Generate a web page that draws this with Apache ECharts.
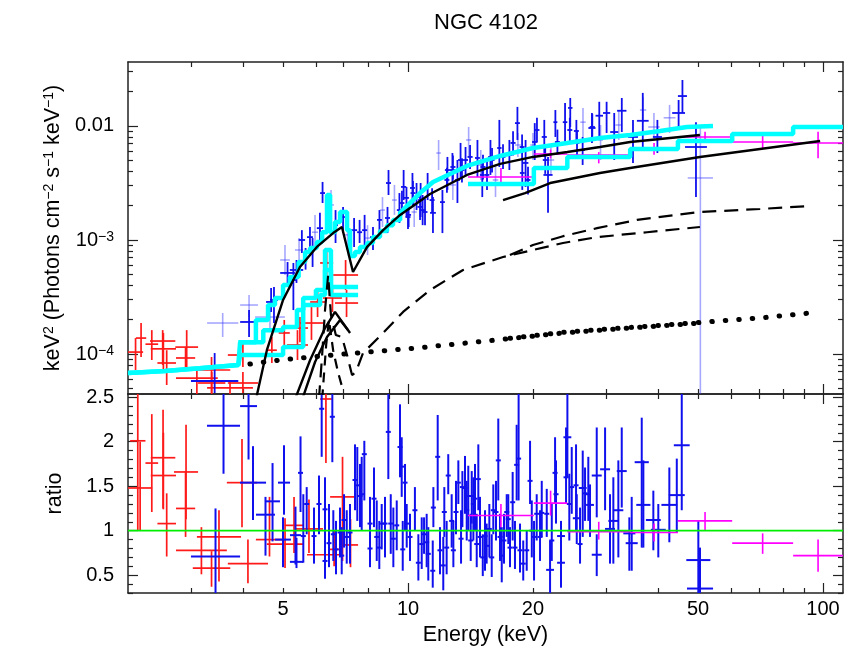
<!DOCTYPE html>
<html><head><meta charset="utf-8">
<script src="https://cdn.jsdelivr.net/npm/echarts@6/dist/echarts.min.js"></script>
<style>html,body{margin:0;padding:0;background:#fff}#c{width:858px;height:648px}</style>
</head><body><div id="c"></div>
<script>
// ---------------- axis ranges & ticks ----------------
const X_MIN = 2.115, X_MAX = 111.7;
const TOP_YMIN = 4.46e-5, TOP_YMAX = 0.0364;
const RAT_YMIN = 0.30, RAT_YMAX = 2.536;
const xLabelTicks = [5, 10, 20, 50, 100];
const xMajorTicks = [10, 100];
const xMinorTicks = [3, 4, 5, 6, 7, 8, 9, 20, 30, 40, 50, 60, 70, 80, 90];
const topMajorTicks = [1e-4, 1e-3, 1e-2];
const topMinorTicks = [5e-5, 6e-5, 7e-5, 8e-5, 9e-5, 2e-4, 3e-4, 4e-4, 5e-4, 6e-4, 7e-4, 8e-4, 9e-4,
  2e-3, 3e-3, 4e-3, 5e-3, 6e-3, 7e-3, 8e-3, 9e-3, 0.02, 0.03];
const ratioMajorTicks = [0.5, 1, 1.5, 2, 2.5];
const ratioMinorTicks = [0.3, 0.4, 0.6, 0.7, 0.8, 0.9, 1.1, 1.2, 1.3, 1.4, 1.6, 1.7, 1.8, 1.9, 2.1, 2.2, 2.3, 2.4];

// ---------------- data: [Elo, Ehi, y, ylo, yhi] ----------------
const redTop = [
  [2.115, 2.30, 1.04e-4, 7.24e-5, 1.38e-4], [2.21, 2.34, 1.38e-4, 9.41e-5, 1.87e-4],
  [2.33, 2.50, 1.22e-4, 8.86e-5, 1.62e-4], [2.39, 2.75, 1.30e-4, 8.01e-5, 1.62e-4],
  [2.40, 2.76, 1.11e-4, 7.24e-5, 1.53e-4], [2.49, 2.76, 8.34e-5, 5.35e-5, 1.08e-4],
  [2.75, 3.12, 1.15e-4, 7.24e-5, 1.62e-4], [2.76, 3.07, 9.23e-5, 7.24e-5, 1.15e-4],
  [2.76, 3.48, 6.15e-5, 4.37e-5, 7.69e-5], [3.03, 3.73, 7.24e-5, 4.55e-5, 9.41e-5],
  [3.12, 3.63, 5.57e-5, 4.37e-5, 6.95e-5], [3.28, 4.23, 5.04e-5, 4.40e-5, 5.90e-5],
  [3.68, 4.35, 5.57e-5, 4.55e-5, 6.95e-5], [3.68, 4.35, 9.80e-5, 7.69e-5, 1.25e-4],
  [4.57, 4.83, 1.08e-4, 8.34e-5, 1.41e-4], [4.88, 5.19, 1.53e-4, 1.15e-4, 1.99e-4],
  [5.25, 5.74, 1.69e-4, 1.27e-4, 2.11e-4], [5.11, 5.74, 1.20e-4, 8.86e-5, 1.62e-4],
  [5.49, 6.24, 1.87e-4, 1.33e-4, 2.80e-4], [5.81, 6.31, 2.86e-4, 2.11e-4, 3.64e-4],
  [6.14, 6.60, 6.29e-4, 4.73e-4, 8.17e-4], [6.24, 6.93, 3.10e-4, 2.34e-4, 4.03e-4],
  [6.67, 7.58, 2.80e-4, 2.11e-4, 3.64e-4], [6.60, 7.58, 4.93e-4, 3.64e-4, 6.68e-4]
];
const redRatio = [
  [2.115, 2.42, 1.48, 1.00, 2.00], [2.14, 2.33, 2.01, 1.00, 2.60], [2.33, 2.50, 1.76, 1.21, 2.31],
  [2.40, 2.75, 1.82, 1.25, 2.36], [2.40, 2.76, 1.62, 1.24, 2.10], [2.49, 2.76, 1.08, 0.71, 1.42],
  [2.73, 3.12, 1.66, 1.13, 2.19], [2.76, 3.07, 1.25, 0.93, 1.67], [2.76, 3.66, 0.78, 0.51, 1.04],
  [3.10, 3.96, 0.93, 0.43, 1.23], [3.03, 3.73, 0.58, 0.37, 0.77], [3.68, 4.60, 0.63, 0.41, 0.90],
  [3.66, 4.33, 1.54, 1.04, 2.03], [4.30, 5.00, 0.90, 0.71, 1.38], [4.57, 5.59, 0.85, 0.58, 1.14],
  [5.05, 5.59, 1.06, 0.75, 1.38], [5.34, 6.24, 1.02, 0.75, 1.35], [5.71, 6.97, 0.73, 0.53, 1.12],
  [6.14, 6.55, 2.48, 1.76, 2.60], [6.49, 7.45, 1.38, 0.66, 1.83], [6.97, 7.58, 0.84, 0.59, 1.13],
  [6.42, 6.86, 0.79, 0.60, 1.00]
];
const blueTop = [
  [3.00, 3.90, 5.8e-5, 4.55e-5, 1.02e-4], [3.94, 4.35, 1.91e-4, 1.41e-4, 2.43e-4],
  [4.55, 4.81, 2.86e-4, 2.34e-4, 3.79e-4], [4.65, 4.86, 2.98e-4, 1.87e-4, 3.87e-4],
  [4.92, 5.34, 5.14e-4, 3.87e-4, 6.41e-4], [5.19, 5.40, 4.46e-4, 2.43e-4, 6.29e-4],
  [5.19, 5.59, 5.46e-4, 4.20e-4, 6.68e-4], [5.45, 5.65, 1.00e-3, 7.69e-4, 1.22e-3],
  [5.59, 5.74, 7.00e-4, 5.50e-4, 8.50e-4], [5.71, 5.90, 1.06e-3, 8.20e-4, 1.30e-3],
  [5.81, 5.97, 8.51e-4, 5.80e-4, 1.04e-3], [6.03, 6.24, 1.27e-3, 9.41e-4, 1.73e-3],
  [6.14, 6.31, 2.58e-3, 2.11e-3, 3.23e-3], [6.60, 6.78, 1.35e-3, 9.41e-4, 1.83e-3],
  [6.86, 7.09, 1.59e-3, 1.15e-3, 1.95e-3], [7.29, 7.54, 1.22e-3, 8.69e-4, 1.56e-3],
  [7.54, 7.75, 1.17e-3, 9.41e-4, 1.50e-3], [7.75, 7.97, 1.22e-3, 8.69e-4, 1.66e-3],
  [8.10, 8.37, 1.06e-3, 8.17e-4, 1.30e-3], [8.42, 8.65, 1.50e-3, 1.06e-3, 1.83e-3],
  [8.80, 9.05, 1.56e-3, 1.15e-3, 1.95e-3], [8.85, 9.10, 3.16e-3, 2.48e-3, 4.11e-3],
  [9.40, 9.67, 1.83e-3, 1.41e-3, 2.58e-3], [9.62, 9.90, 2.92e-3, 2.24e-3, 4.11e-3],
  [9.78, 10.05, 2.34e-3, 1.59e-3, 2.92e-3], [9.90, 10.17, 1.66e-3, 1.30e-3, 2.15e-3],
  [10.11, 10.39, 2.86e-3, 2.11e-3, 3.87e-3], [10.34, 10.63, 2.38e-3, 1.83e-3, 3.16e-3],
  [10.57, 10.88, 2.24e-3, 1.59e-3, 3.16e-3], [10.69, 11.00, 1.83e-3, 1.35e-3, 2.48e-3],
  [11.00, 11.30, 2.92e-3, 2.24e-3, 3.87e-3], [11.30, 11.67, 1.73e-3, 1.15e-3, 2.38e-3],
  [11.94, 12.27, 2.15e-3, 1.15e-3, 2.75e-3], [12.27, 12.62, 4.11e-3, 2.75e-3, 5.35e-3],
  [12.62, 12.97, 4.11e-3, 3.16e-3, 5.79e-3], [12.97, 13.34, 3.36e-3, 2.11e-3, 5.03e-3],
  [13.20, 13.57, 5.03e-3, 3.57e-3, 7.10e-3], [13.57, 13.95, 5.03e-3, 3.72e-3, 6.54e-3],
  [14.50, 14.90, 5.24e-3, 3.57e-3, 7.54e-3], [14.90, 15.30, 3.72e-3, 2.38e-3, 5.03e-3],
  [15.30, 15.70, 3.72e-3, 2.75e-3, 5.03e-3], [15.60, 16.00, 5.35e-3, 3.72e-3, 7.54e-3],
  [16.40, 16.80, 6.41e-3, 4.37e-3, 1.13e-2], [17.30, 17.80, 5.57e-3, 4.11e-3, 7.54e-3],
  [18.10, 18.60, 1.06e-2, 7.54e-3, 1.47e-2], [18.60, 19.10, 3.87e-3, 2.75e-3, 5.03e-3],
  [18.90, 19.50, 4.74e-3, 2.92e-3, 7.54e-3], [19.90, 20.50, 7.24e-3, 5.03e-3, 1.06e-2],
  [21.00, 21.60, 8.01e-3, 5.35e-3, 1.13e-2], [21.20, 22.30, 3.72e-3, 1.73e-3, 5.35e-3],
  [22.40, 22.90, 1.08e-2, 8.01e-3, 1.38e-2], [23.60, 24.20, 1.08e-2, 7.10e-3, 1.59e-2],
  [24.30, 24.90, 1.44e-2, 9.80e-3, 1.76e-2], [25.10, 25.80, 9.04e-3, 7.10e-3, 1.13e-2],
  [26.00, 26.70, 6.16e-3, 4.55e-3, 8.01e-3], [27.20, 28.30, 9.60e-3, 7.10e-3, 1.30e-2],
  [28.30, 29.50, 1.23e-2, 7.54e-3, 1.63e-2], [29.50, 30.70, 1.30e-2, 8.68e-3, 1.63e-2],
  [30.70, 32.10, 8.85e-3, 5.03e-3, 1.30e-2], [31.90, 33.60, 1.36e-2, 8.85e-3, 1.76e-2],
  [33.90, 35.80, 8.01e-3, 4.74e-3, 1.13e-2], [35.60, 38.00, 1.11e-2, 6.54e-3, 1.95e-2],
  [38.90, 40.90, 8.01e-3, 5.79e-3, 1.13e-2], [43.30, 46.50, 1.30e-2, 9.80e-3, 1.69e-2],
  [44.70, 47.00, 1.83e-2, 1.30e-2, 2.53e-2], [46.50, 52.50, 6.54e-3, 2.38e-3, 1.08e-2],
  [9.54, 9.80, 2.11e-3, 1.65e-3, 2.70e-3], [9.86, 10.14, 1.59e-3, 1.25e-3, 2.05e-3],
  [10.14, 10.42, 2.58e-3, 2.00e-3, 3.30e-3], [10.54, 10.84, 1.95e-3, 1.50e-3, 2.50e-3],
  [10.84, 11.14, 1.76e-3, 1.35e-3, 2.30e-3], [11.27, 11.59, 2.24e-3, 1.75e-3, 2.85e-3],
  [12.24, 12.58, 3.36e-3, 2.60e-3, 4.30e-3], [12.65, 13.01, 4.37e-3, 3.40e-3, 5.50e-3],
  [13.30, 13.68, 4.11e-3, 3.20e-3, 5.20e-3], [13.91, 14.31, 5.35e-3, 4.20e-3, 6.80e-3],
  [14.95, 15.37, 4.37e-3, 3.40e-3, 5.60e-3], [15.72, 16.16, 5.03e-3, 3.90e-3, 6.40e-3],
  [16.71, 17.17, 5.35e-3, 4.20e-3, 6.90e-3], [17.66, 18.16, 7.10e-3, 5.50e-3, 9.00e-3],
  [18.57, 19.09, 6.54e-3, 5.10e-3, 8.40e-3], [19.19, 19.73, 3.36e-3, 2.50e-3, 4.40e-3],
  [20.17, 20.73, 9.22e-3, 7.20e-3, 1.18e-2], [21.12, 21.70, 5.03e-3, 3.80e-3, 6.50e-3],
  [22.59, 23.23, 7.24e-3, 5.60e-3, 9.30e-3], [24.20, 24.88, 9.22e-3, 7.20e-3, 1.18e-2],
  [25.19, 25.89, 7.10e-3, 5.50e-3, 9.10e-3], [27.40, 28.20, 9.80e-3, 7.50e-3, 1.27e-2]
];
const blueFaintTop = [
  [3.28, 3.90, 1.87e-4, 1.41e-4, 2.29e-4], [3.94, 4.35, 2.69e-4, 2.11e-4, 3.29e-4],
  [4.28, 5.05, 2.11e-4, 1.62e-4, 2.69e-4], [4.92, 5.19, 6.68e-4, 4.93e-4, 9.04e-4],
  [5.34, 5.59, 8.17e-4, 6.04e-4, 1.04e-3], [5.87, 6.07, 1.17e-3, 8.17e-4, 1.66e-3],
  [6.42, 6.63, 2.03e-3, 1.50e-3, 2.75e-3], [7.05, 7.25, 1.11e-3, 8.17e-4, 1.50e-3],
  [7.88, 8.10, 1.04e-3, 7.38e-4, 1.35e-3], [8.56, 8.80, 1.83e-3, 1.30e-3, 2.38e-3],
  [9.15, 9.40, 2.24e-3, 1.66e-3, 3.04e-3], [10.2, 10.5, 1.76e-3, 1.30e-3, 2.34e-3],
  [11.7, 12.0, 5.79e-3, 4.11e-3, 7.54e-3], [12.6, 13.05, 3.04e-3, 2.24e-3, 4.11e-3],
  [13.8, 14.2, 7.54e-3, 5.35e-3, 9.80e-3], [14.75, 15.2, 4.55e-3, 3.36e-3, 6.16e-3],
  [16.0, 16.5, 3.36e-3, 2.38e-3, 4.55e-3], [18.1, 18.7, 6.81e-3, 5.35e-3, 8.68e-3],
  [19.7, 20.3, 6.81e-3, 5.03e-3, 8.68e-3], [21.7, 22.5, 5.03e-3, 3.72e-3, 6.54e-3],
  [26.0, 26.8, 1.08e-2, 8.01e-3, 1.44e-2], [28.7, 29.5, 7.54e-3, 5.03e-3, 1.02e-2],
  [31.6, 32.8, 1.02e-2, 7.54e-3, 1.38e-2], [36.2, 37.5, 1.38e-2, 1.06e-2, 1.80e-2],
  [37.9, 40.4, 9.80e-3, 7.54e-3, 1.30e-2], [41.3, 44.1, 1.18e-2, 8.68e-3, 1.53e-2],
  [47.2, 54.3, 3.50e-3, 1e-6, 9.80e-3]
];
// blue ratio: [E, half-width %, ratio, lo, hi]
const blueRatio = [
  [3.593, 9.6, 2.18, 1.64, 2.6], [4.128, 4.8, 2.40, 1.80, 2.6], [4.232, 7.5, 1.54, 1.12, 1.95],
  [3.437, 14.6, 0.71, 0.29, 1.25], [4.535, 5.4, 1.18, 0.72, 1.38], [4.716, 4.2, 1.33, 0.88, 1.76],
  [5.026, 3.4, 1.54, 1.18, 1.96], [4.997, 4.5, 0.90, 0.59, 1.15], [5.356, 3.1, 0.95, 0.62, 1.27],
  [5.386, 3.7, 0.65, 0.58, 0.92], [5.508, 1.4, 1.65, 1.21, 2.06], [5.594, 1.4, 0.94, 0.64, 1.41],
  [5.700, 1.4, 1.30, 0.96, 1.49], [5.936, 1.4, 0.94, 0.63, 1.26], [6.102, 1.4, 1.30, 0.96, 1.62],
  [6.194, 1.4, 2.37, 1.83, 2.6], [6.310, 1.4, 1.24, 0.87, 1.60], [6.310, 1.4, 0.66, 0.46, 0.96],
  [6.451, 1.4, 0.86, 0.59, 1.30], [6.571, 1.4, 2.28, 1.77, 2.6], [6.607, 1.4, 0.96, 0.66, 1.23],
  [6.707, 1.4, 0.79, 0.51, 1.11], [6.857, 1.4, 0.98, 0.70, 1.26], [6.922, 1.4, 0.72, 0.51, 1.04],
  [7.012, 1.4, 1.12, 0.81, 1.41], [7.118, 1.4, 0.93, 0.63, 1.23], [7.248, 1.4, 0.98, 0.63, 1.30],
  [7.452, 1.4, 1.57, 1.23, 1.97], [7.547, 1.4, 1.51, 1.11, 1.94], [7.661, 1.4, 1.39, 1.04, 1.75],
  [7.734, 1.4, 1.41, 1.00, 1.83], [7.847, 1.4, 1.86, 1.34, 2.01], [8.099, 1.4, 1.08, 0.70, 1.38],
  [8.099, 1.4, 0.80, 0.59, 1.11], [8.281, 1.4, 1.36, 1.04, 1.71], [8.406, 1.4, 0.93, 0.66, 1.34],
  [8.527, 1.4, 0.81, 0.57, 1.11], [8.642, 1.4, 1.08, 0.79, 1.30], [8.802, 1.4, 1.08, 0.70, 1.38],
  [8.965, 1.4, 2.11, 1.58, 2.6], [9.086, 1.4, 1.08, 0.74, 1.41], [9.218, 1.4, 0.91, 0.59, 1.26],
  [9.393, 1.4, 1.06, 0.78, 1.34], [9.566, 1.4, 1.94, 1.60, 2.42], [9.656, 1.4, 1.72, 1.38, 2.05],
  [9.711, 1.4, 0.79, 0.55, 1.11], [9.835, 1.4, 1.54, 1.00, 1.75], [9.928, 1.4, 1.08, 0.81, 1.30],
  [10.11, 1.4, 0.93, 0.66, 1.19], [10.39, 1.4, 1.23, 1.00, 1.49], [10.59, 1.4, 0.64, 0.44, 0.96],
  [10.79, 1.4, 0.85, 0.57, 1.15], [10.93, 1.4, 0.96, 0.74, 1.15], [11.09, 1.4, 0.87, 0.59, 1.19],
  [11.19, 1.4, 0.74, 0.44, 1.04], [11.47, 1.4, 0.55, 0.36, 0.89], [11.51, 1.4, 1.26, 1.04, 1.49],
  [11.79, 1.4, 1.83, 1.34, 2.30], [11.94, 1.4, 0.78, 0.51, 1.04], [12.16, 1.4, 0.61, 0.33, 0.93],
  [12.23, 1.4, 1.21, 0.93, 1.49], [12.39, 1.4, 0.81, 0.51, 1.11], [12.50, 1.4, 1.62, 1.41, 1.86],
  [12.74, 1.4, 1.11, 0.81, 1.41], [12.86, 1.4, 0.78, 0.59, 1.11], [13.05, 1.4, 1.21, 0.96, 1.56],
  [13.22, 1.4, 1.54, 1.30, 1.79], [13.42, 1.4, 0.91, 0.63, 1.23], [13.52, 1.4, 1.49, 1.04, 1.67],
  [13.72, 1.4, 1.48, 1.19, 1.84], [13.85, 1.4, 1.23, 0.89, 1.56], [13.97, 1.4, 1.39, 1.00, 1.73],
  [14.16, 1.4, 0.89, 0.66, 1.19], [14.24, 1.4, 1.39, 1.08, 1.67], [14.37, 1.4, 1.30, 0.89, 1.60],
  [14.50, 1.4, 1.36, 1.00, 1.75], [14.64, 1.4, 0.85, 0.59, 1.19], [14.77, 1.4, 1.58, 1.23, 1.97],
  [14.91, 1.4, 0.93, 0.70, 1.38], [15.14, 1.4, 0.70, 0.49, 0.96], [15.33, 1.4, 0.94, 0.55, 1.23],
  [15.47, 1.4, 0.83, 0.63, 1.08], [15.70, 1.4, 1.02, 0.70, 1.30], [15.91, 1.4, 0.70, 0.48, 0.96],
  [16.05, 1.4, 1.23, 0.96, 1.52], [16.29, 1.4, 1.21, 0.89, 1.56], [16.50, 1.4, 1.79, 1.34, 2.26],
  [16.66, 1.4, 0.93, 0.66, 1.19], [16.82, 1.4, 0.72, 0.42, 1.04], [17.03, 1.4, 0.89, 0.63, 1.19],
  [17.29, 1.4, 1.21, 0.93, 1.41], [17.44, 1.4, 1.13, 0.85, 1.41], [17.61, 1.4, 0.81, 0.59, 1.04],
  [17.87, 1.4, 1.32, 0.89, 1.66], [18.10, 1.4, 0.81, 0.57, 1.11], [18.27, 1.4, 1.74, 1.34, 2.19],
  [18.47, 1.4, 1.81, 1.34, 2.6], [18.61, 1.4, 0.78, 0.53, 1.08], [18.95, 1.4, 0.63, 0.44, 0.89],
  [19.32, 1.4, 0.78, 0.55, 1.00], [19.68, 1.4, 1.56, 1.30, 2.01], [19.87, 1.4, 1.00, 0.70, 1.34],
  [20.12, 1.4, 0.93, 0.44, 1.11], [20.42, 1.4, 1.19, 0.89, 1.41], [20.80, 1.4, 0.93, 0.66, 1.23],
  [21.00, 1.4, 1.20, 0.93, 1.56], [21.59, 1.4, 1.19, 0.93, 1.47], [21.99, 2.2, 0.56, 0.29, 0.89],
  [22.20, 1.4, 0.89, 0.66, 1.30], [22.61, 1.4, 1.65, 1.30, 2.05], [22.73, 1.4, 1.41, 1.08, 1.79],
  [23.37, 2.2, 0.94, 0.59, 1.11], [23.37, 2.2, 0.64, 0.36, 0.89], [24.03, 1.4, 1.60, 1.30, 2.16],
  [24.21, 2.2, 2.05, 1.60, 2.6], [24.47, 1.4, 1.30, 0.89, 1.64], [24.80, 1.4, 1.49, 1.19, 1.94],
  [25.40, 1.4, 1.51, 1.00, 1.97], [25.50, 2.2, 1.14, 0.85, 1.41], [25.97, 1.4, 0.85, 0.63, 1.26],
  [26.36, 2.2, 1.48, 0.93, 1.90], [26.70, 1.4, 1.42, 1.11, 1.71], [27.19, 1.4, 1.41, 1.11, 1.83],
  [27.45, 2.2, 1.29, 0.93, 1.52], [28.49, 2.8, 1.62, 1.15, 2.16], [28.49, 2.8, 0.73, 0.49, 0.96],
  [29.84, 2.8, 1.69, 1.23, 2.16], [30.67, 2.8, 1.02, 0.63, 1.41], [31.24, 2.8, 1.11, 0.63, 1.60],
  [32.12, 2.8, 1.23, 0.70, 1.79], [32.73, 2.8, 1.67, 1.26, 2.16], [34.14, 3.4, 0.97, 0.55, 1.15],
  [34.59, 3.4, 0.86, 0.55, 1.38], [36.57, 4.0, 1.77, 0.81, 2.27], [36.90, 4.0, 1.29, 0.81, 1.79],
  [39.00, 4.2, 1.12, 0.78, 1.45], [40.09, 4.2, 1.01, 0.70, 1.30], [42.62, 4.5, 1.29, 0.87, 1.71],
  [44.42, 4.5, 1.40, 0.98, 1.81], [45.66, 4.5, 1.96, 1.23, 2.6], [50.06, 6.9, 0.67, 0.29, 1.11],
  [50.53, 7.5, 0.35, 0.20, 0.81]
];
const magentaTop = [
  [13.95, 20.1, 3.57e-3, 3.20e-3, 4.28e-3], [20.1, 24.2, 5.68e-3, 5.20e-3, 6.20e-3],
  [24.2, 34.3, 5.57e-3, 4.70e-3, 5.90e-3], [34.3, 44.7, 6.41e-3, 5.60e-3, 7.10e-3],
  [44.7, 60.4, 8.01e-3, 7.20e-3, 8.90e-3], [60.4, 84.7, 7.24e-3, 6.40e-3, 8.30e-3],
  [84.7, 111.7, 7.10e-3, 5.20e-3, 8.90e-3]
];
const magentaRatio = [
  [13.95, 20.1, 1.17, 1.04, 1.30], [20.1, 24.2, 1.31, 1.17, 1.45], [24.2, 34.3, 0.99, 0.90, 1.10],
  [34.3, 44.7, 0.98, 0.88, 1.08], [44.7, 60.4, 1.11, 1.00, 1.21], [60.4, 84.7, 0.86, 0.74, 0.97],
  [84.7, 111.7, 0.72, 0.54, 0.90]
];

// ---------------- models ----------------
const cyanRedSmoothE = [2.115, 2.60, 3.15, 3.90];
const cyanRedSmoothV = [6.81e-5, 7.10e-5, 7.50e-5, 8.00e-5];
const cyanRed1Edges = [3.94, 4.48, 5.00, 5.40, 5.59, 6.00, 6.31, 6.52, 7.58];
const cyanRed1Vals = [1.27e-4, 1.62e-4, 1.73e-4, 2.43e-4, 3.10e-4, 3.64e-4, 8.17e-4, 3.87e-4];
const cyanRed2Edges = [3.94, 5.00, 5.59, 6.14, 6.31, 6.52, 7.58];
const cyanRed2Vals = [9.8e-5, 1.15e-4, 2.69e-4, 3.29e-4, 5.46e-4, 3.29e-4];
const cyanBlueEdges = [3.90, 4.30, 4.60, 4.78, 5.00, 5.19, 5.45, 5.65, 5.81, 6.03, 6.21, 6.38, 6.49,
  6.67, 6.86, 7.13, 7.25, 7.45, 7.66, 7.97, 8.23, 8.56, 8.90, 9.20, 9.57];
const cyanBlueVals = [1.27e-4, 1.99e-4, 2.69e-4, 3.10e-4, 4.03e-4, 4.73e-4, 6.41e-4, 7.85e-4, 8.51e-4,
  9.59e-4, 1.17e-3, 2.48e-3, 1.17e-3, 1.44e-3, 1.76e-3, 1.22e-3, 7.24e-4, 7.85e-4, 8.69e-4, 9.41e-4,
  1.06e-3, 1.20e-3, 1.35e-3, 1.50e-3];
const cyanBlueSmoothE = [9.57, 10.69, 11.49, 13.87, 16.67, 20.0, 24.2, 29.0, 34.3, 40.5, 47.0, 54.3];
const cyanBlueSmoothV = [1.73e-3, 2.58e-3, 3.23e-3, 4.46e-3, 5.46e-3, 6.41e-3, 7.10e-3, 7.85e-3, 8.34e-3,
  9.04e-3, 9.80e-3, 1.0e-2];
const cyanBatEdges = [13.95, 20.1, 24.2, 34.3, 44.7, 60.4, 84.7, 111.7];
const cyanBatVals = [3.10e-3, 4.28e-3, 5.35e-3, 6.29e-3, 7.38e-3, 8.51e-3, 9.80e-3];

const totalAE = [4.25, 4.33, 4.57, 5.00, 5.49, 6.03, 6.60, 6.93, 7.37, 7.97, 8.71, 9.57, 11.3, 13.87,
  16.67, 20.0, 24.2, 29.0, 34.3, 50.5];
const totalAV = [3.0e-5, 4.46e-5, 1.08e-4, 2.98e-4, 5.80e-4, 8.69e-4, 1.15e-3, 1.30e-3, 5.24e-4, 8.69e-4,
  1.22e-3, 1.66e-3, 2.53e-3, 3.72e-3, 4.65e-3, 5.35e-3, 5.91e-3, 6.54e-3, 7.24e-3, 8.34e-3];
const totalBE = [16.94, 19.14, 22.0, 29.0, 34.3, 50.5, 98.4];
const totalBV = [2.24e-3, 2.58e-3, 3.16e-3, 3.87e-3, 4.28e-3, 5.35e-3, 7.38e-3];
const lineS1E = [5.34, 5.81, 6.31, 6.67, 7.25];
const lineS1V = [4.0e-5, 8.86e-5, 1.69e-4, 2.34e-4, 1.53e-4];
const lineS2E = [5.56, 5.97, 6.38, 6.86, 7.17];
const lineS2V = [4.0e-5, 8.51e-5, 1.41e-4, 1.99e-4, 1.62e-4];
const reflAE = [6.10, 6.21, 6.31, 6.42, 6.52, 6.70, 6.93, 7.13, 7.33, 7.49, 7.79, 8.71, 9.73, 11.3, 13.57,
  16.94, 20.0, 23.63, 28.54, 37.66, 50.5];
const reflAV = [4.0e-5, 9.80e-5, 2.43e-4, 4.93e-4, 2.20e-4, 1.47e-4, 1.41e-4, 9.80e-5, 6.54e-5, 6.95e-5,
  1.02e-4, 1.53e-4, 2.34e-4, 3.64e-4, 5.46e-4, 7.09e-4, 8.17e-4, 9.41e-4, 1.06e-3, 1.17e-3, 1.30e-3];
const reflA2E = [6.21, 6.35, 6.45, 6.60, 6.78, 6.97];
const reflA2V = [4.0e-5, 1.20e-4, 1.99e-4, 1.08e-4, 6.95e-5, 4.83e-5];
const reflBE = [17.6, 20.0, 23.63, 28.54, 35.63, 50.5, 70.5, 93.05];
const reflBV = [7.38e-4, 9.04e-4, 1.08e-3, 1.27e-3, 1.50e-3, 1.76e-3, 1.87e-3, 1.99e-3];
const scatAE = [4.16, 4.92, 6.60, 10.51, 16.39, 23.63, 34.3, 50.5];
const scatAV = [8.17e-5, 8.86e-5, 9.80e-5, 1.13e-4, 1.33e-4, 1.53e-4, 1.69e-4, 1.87e-4];
const scatBE = [16.9, 23.63, 34.3, 50.5, 70.5, 93.05];
const scatBV = [1.35e-4, 1.55e-4, 1.71e-4, 1.89e-4, 2.07e-4, 2.29e-4];
const unityLine = [[X_MIN, 1], [X_MAX, 1]];

// ---------------- helpers ----------------
const FONT = "'Liberation Sans', Arial, Helvetica, sans-serif";
const AX = '#222';
function zip(E, V) { return E.map((e, i) => [e, V[i]]); }
function stepPts(edges, vals) {
  const p = [];
  for (let i = 0; i < vals.length; i++) { p.push([edges[i], vals[i]]); p.push([edges[i + 1], vals[i]]); }
  return p;
}
function crosses(data, color, width, xi, yi) {
  return {
    type: 'custom', xAxisIndex: xi, yAxisIndex: yi, clip: true, silent: true,
    encode: { x: [0, 1], y: [2, 3, 4] },
    data: data,
    renderItem: function (params, api) {
      const lo = api.value(0), hi = api.value(1), y = api.value(2), ylo = api.value(3), yhi = api.value(4);
      const xc = Math.sqrt(lo * hi);
      const a = api.coord([lo, y]), b = api.coord([hi, y]);
      const c = api.coord([xc, ylo]), d = api.coord([xc, yhi]);
      const st = { stroke: color, lineWidth: width };
      return { type: 'group', children: [
        { type: 'line', shape: { x1: a[0], y1: a[1], x2: b[0], y2: b[1] }, style: st },
        { type: 'line', shape: { x1: c[0], y1: c[1], x2: d[0], y2: d[1] }, style: st }
      ] };
    }
  };
}
function line(data, color, width, type, xi, yi, extra) {
  return Object.assign({
    type: 'line', data: data, xAxisIndex: xi, yAxisIndex: yi, showSymbol: false, symbol: 'none',
    silent: true, clip: true, smooth: false,
    lineStyle: { color: color, width: width, type: type || 'solid' }
  }, extra || {});
}
function ax(type, grid, pos, min, max, ticks, len, showLine, label, extra) {
  const a = {
    type: type, gridIndex: grid, position: pos, min: min, max: max,
    axisLine: { show: showLine, onZero: false, lineStyle: { color: AX, width: 1.5 } },
    axisTick: { show: true, inside: true, length: len, customValues: ticks, lineStyle: { color: AX, width: 1.2 } },
    axisLabel: label || { show: false },
    splitLine: { show: false }, minorTick: { show: false }, minorSplitLine: { show: false }
  };
  if (type === 'log') a.logBase = 10;
  return Object.assign(a, extra || {});
}

const supRich = { s: { fontSize: 14, verticalAlign: 'top', fontFamily: FONT, color: '#000' },
                  a: { fontSize: 21.5, fontFamily: FONT, color: '#000' } };

const xLabel = { show: true, customValues: xLabelTicks, fontSize: 20, color: '#000', fontFamily: FONT, margin: 6,
  formatter: v => String(Math.round(v)) };
const topYLabel = { show: true, customValues: topMajorTicks, fontSize: 20, color: '#000', fontFamily: FONT, margin: 14,
  formatter: v => { const e = Math.round(Math.log10(v)); return e === -2 ? '0.01' : '10{s|\u2212' + (-e) + '}'; },
  rich: { s: { fontSize: 14, verticalAlign: 'top', fontFamily: FONT, color: '#000' } } };
const ratioYLabel = { show: true, customValues: ratioMajorTicks, fontSize: 20, color: '#000', fontFamily: FONT, margin: 14,
  formatter: v => String(v) };

const blueRatioBars = blueRatio.map(d => [d[0] / (1 + d[1] / 100), d[0] * (1 + d[1] / 100), d[2], d[3], d[4]]);
const dotStyleA = { color: '#000', width: 5, type: [0.5, 13], cap: 'round' };
const dotStyleB = { color: '#000', width: 5, type: [0.5, 13], dashOffset: 6, cap: 'round' };

const option = {
  animation: false,
  backgroundColor: '#fff',
  title: { text: 'NGC 4102', left: 429, top: 7,
    textStyle: { fontSize: 22, fontWeight: 'normal', color: '#000', fontFamily: FONT } },
  grid: [
    { left: 128, top: 62, width: 715, height: 332 },
    { left: 128, top: 394, width: 715, height: 199 }
  ],
  xAxis: [
    ax('log', 0, 'bottom', X_MIN, X_MAX, xMajorTicks, 10, true),
    ax('log', 0, 'bottom', X_MIN, X_MAX, xMinorTicks, 5, false),
    ax('log', 0, 'top', X_MIN, X_MAX, xMajorTicks, 10, true),
    ax('log', 0, 'top', X_MIN, X_MAX, xMinorTicks, 5, false),
    ax('log', 1, 'bottom', X_MIN, X_MAX, xMajorTicks, 10, true, xLabel,
      { name: 'Energy (keV)', nameLocation: 'middle', nameGap: 31,
        nameTextStyle: { fontSize: 21.5, color: '#000', fontFamily: FONT } }),
    ax('log', 1, 'bottom', X_MIN, X_MAX, xMinorTicks, 5, false),
    ax('log', 1, 'top', X_MIN, X_MAX, xMajorTicks, 10, true),
    ax('log', 1, 'top', X_MIN, X_MAX, xMinorTicks, 5, false)
  ],
  yAxis: [
    ax('log', 0, 'left', TOP_YMIN, TOP_YMAX, topMajorTicks, 10, true, topYLabel,
      { name: '{a|keV}{s|2}{a| (Photons cm}{s|\u22122}{a| s}{s|\u22121}{a| keV}{s|\u22121}{a|)}',
        nameLocation: 'middle', nameGap: 60,
        nameTextStyle: { fontSize: 21.5, color: '#000', fontFamily: FONT, rich: supRich } }),
    ax('log', 0, 'left', TOP_YMIN, TOP_YMAX, topMinorTicks, 5, false),
    ax('log', 0, 'right', TOP_YMIN, TOP_YMAX, topMajorTicks, 10, true),
    ax('log', 0, 'right', TOP_YMIN, TOP_YMAX, topMinorTicks, 5, false),
    ax('value', 1, 'left', RAT_YMIN, RAT_YMAX, ratioMajorTicks, 10, true, ratioYLabel,
      { name: 'ratio', nameLocation: 'middle', nameGap: 62,
        nameTextStyle: { fontSize: 21.5, color: '#000', fontFamily: FONT } }),
    ax('value', 1, 'left', RAT_YMIN, RAT_YMAX, ratioMinorTicks, 5, false),
    ax('value', 1, 'right', RAT_YMIN, RAT_YMAX, ratioMajorTicks, 10, true),
    ax('value', 1, 'right', RAT_YMIN, RAT_YMAX, ratioMinorTicks, 5, false)
  ],
  series: [
    // top panel data
    crosses(redTop, '#ff1a1a', 1.7, 0, 0),
    crosses(blueFaintTop, 'rgba(60,60,255,0.45)', 1.6, 0, 0),
    crosses(blueTop, '#1010ee', 1.8, 0, 0),
    crosses(magentaTop, '#ff00ff', 1.6, 0, 0),
    // cyan folded models
    line(zip(cyanRedSmoothE, cyanRedSmoothV).concat(stepPts(cyanRed2Edges, cyanRed2Vals)), '#00ffff', 4.5, 'solid', 0, 0),
    line(zip(cyanRedSmoothE, cyanRedSmoothV).concat(stepPts(cyanRed1Edges, cyanRed1Vals)), '#00ffff', 4.5, 'solid', 0, 0),
    line(stepPts(cyanBlueEdges, cyanBlueVals).concat(zip(cyanBlueSmoothE, cyanBlueSmoothV)), '#00ffff', 4.5, 'solid', 0, 0),
    line(stepPts(cyanBatEdges, cyanBatVals), '#00ffff', 4.5, 'solid', 0, 0),
    // black model components
    line(zip(totalAE, totalAV), '#000', 2.4, 'solid', 0, 0),
    line(zip(totalBE, totalBV), '#000', 2.4, 'solid', 0, 0),
    line(zip(lineS1E, lineS1V), '#000', 2.4, 'solid', 0, 0),
    line(zip(lineS2E, lineS2V), '#000', 2.4, 'solid', 0, 0),
    line(zip(reflAE, reflAV), '#000', 2.2, [14, 8], 0, 0),
    line(zip(reflA2E, reflA2V), '#000', 2.2, [10, 7], 0, 0),
    line(zip(reflBE, reflBV), '#000', 2.2, [14, 8], 0, 0),
    line(zip(scatAE, scatAV), '#000', 5, 'dotted', 0, 0, { lineStyle: dotStyleA }),
    line(zip(scatBE, scatBV), '#000', 5, 'dotted', 0, 0, { lineStyle: dotStyleB }),
    // ratio panel
    crosses(redRatio, '#ff1a1a', 1.7, 4, 4),
    crosses(blueRatioBars, '#1010ee', 2, 4, 4),
    crosses(magentaRatio, '#ff00ff', 1.6, 4, 4),
    line(unityLine, '#00ee00', 1.8, 'solid', 4, 4)
  ]
};
echarts.init(document.getElementById('c'), null, { renderer: 'canvas' }).setOption(option);
</script></body></html>
